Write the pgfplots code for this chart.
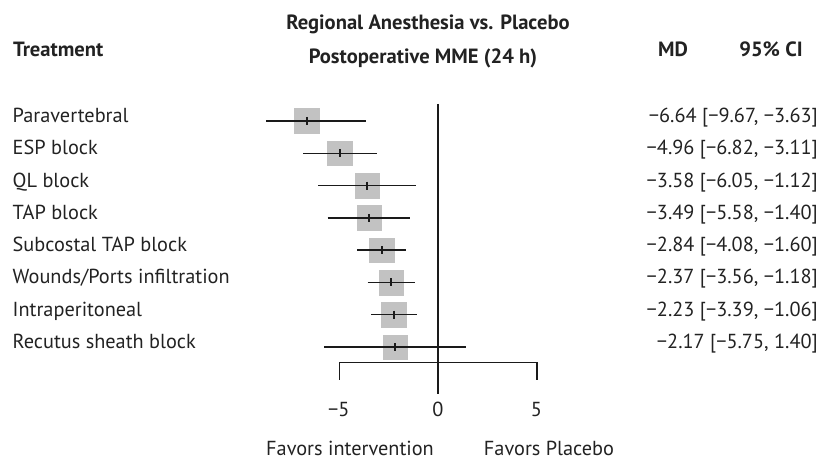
\documentclass[border=0pt]{standalone}
\usepackage{pgfplots}
\pgfplotsset{compat=1.18}
\usepackage{pgfplotstable}
\usepackage{fontspec}
\setmainfont{PT Sans}
\definecolor{txt}{HTML}{222222}
\definecolor{sq}{HTML}{C2C2C2}
\definecolor{ln}{HTML}{1A1A1A}

\pgfplotstableread{
y md
0 -6.64
-1 -4.96
-2 -3.58
-3 -3.49
-4 -2.84
-5 -2.37
-6 -2.23
-7 -2.17
}\est

\pgfplotstableread{
x y
-8.70 0
-3.63 0
nan nan
-6.82 -1
-3.11 -1
nan nan
-6.05 -2
-1.12 -2
nan nan
-5.58 -3
-1.40 -3
nan nan
-4.08 -4
-1.60 -4
nan nan
-3.56 -5
-1.18 -5
nan nan
-3.39 -6
-1.06 -6
nan nan
-5.75 -7
1.40 -7
}\ci

\begin{document}
\begin{tikzpicture}[x=1pt,y=1pt]
\path[use as bounding box] (0,0) rectangle (821,460);
\begin{axis}[at={(438pt,339pt)}, anchor=origin,
  x=19.76pt, y=32.29pt,
  xmin=-10, xmax=10, ymin=-9, ymax=1,
  hide axis, clip=false, clip marker paths=true]
% squares
\addplot[color=sq, only marks, mark=square*, mark size=12.3pt] table[x=md,y=y] {\est};
% zero line
\addplot[ln, line width=1.6pt] coordinates {(0,0.53) (0,-8.45)};
% bracket axis
\addplot[ln, line width=1.4pt] coordinates {(-5,-8.02) (-5,-7.48) (5,-7.48) (5,-8.02)};
% whiskers
\addplot[ln, line width=1.5pt, unbounded coords=jump] table[x=x,y=y] {\ci};
% centre ticks
\addplot[ln, only marks, mark=|, mark size=4pt, mark options={line width=1.8pt}] table[x=md,y=y] {\est};
\end{axis}
\begin{scope}[every node/.style={text=txt, font=\fontsize{20.3}{23}\selectfont, inner sep=0pt}]
% headers
\node[anchor=base west, font=\fontsize{20.6}{23}\selectfont\bfseries] at (13,403.5) {Treatment};
\node[anchor=base, font=\fontsize{20.6}{23}\selectfont\bfseries] at (428,430.7) {Regional Anesthesia vs. Placebo};
\node[anchor=base, font=\fontsize{20.6}{23}\selectfont\bfseries] at (423,396.7) {Postoperative MME (24 h)};
\node[anchor=base, font=\fontsize{20.6}{23}\selectfont\bfseries] at (673,403.5) {MD};
\node[anchor=base, font=\fontsize{20.6}{23}\selectfont\bfseries] at (771,403.5) {95\% CI};
% rows
\foreach \i/\name/\val in {
 0/Paravertebral/{−6.64 [−9.67, −3.63]},
 1/ESP block/{−4.96 [−6.82, −3.11]},
 2/QL block/{−3.58 [−6.05, −1.12]},
 3/TAP block/{−3.49 [−5.58, −1.40]},
 4/Subcostal TAP block/{−2.84 [−4.08, −1.60]},
 5/Wounds\slash Ports infiltration/{−2.37 [−3.56, −1.18]},
 6/Intraperitoneal/{−2.23 [−3.39, −1.06]},
 7/Recutus sheath block/{−2.17 [−5.75, 1.40]}} {
  \node[anchor=base west] at (12.5, 337.5-32.29*\i) {\name};
  \node[anchor=base east] at (818, 337.5-32.29*\i) {\val};
}
% tick labels
\node[anchor=base] at (338.7,43) {−5};
\node[anchor=base] at (438,43) {0};
\node[anchor=base] at (536.3,43) {5};
\node[anchor=base] at (350,4.5) {Favors intervention};
\node[anchor=base] at (549,4.5) {Favors Placebo};
\end{scope}
\end{tikzpicture}
\end{document}
